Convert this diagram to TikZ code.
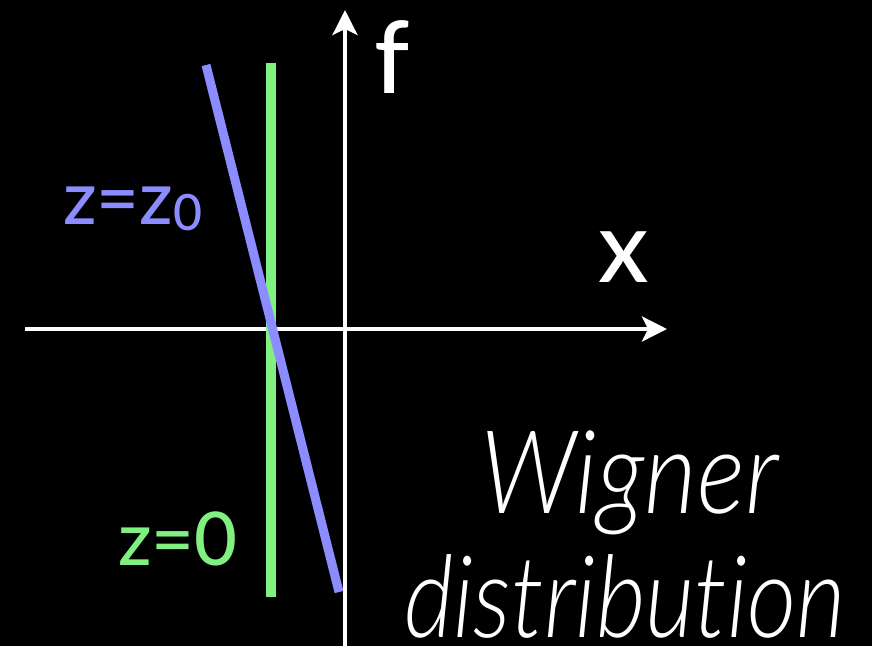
\documentclass[tikz,border=0pt]{standalone}
\usepackage{fontspec}
\setmainfont{Lato Medium}
\newfontfamily\lightit{Lato Light Italic}[Ligatures={NoCommon}]
\usetikzlibrary{arrows.meta}
\definecolor{zblue}{RGB}{138,140,255}
\definecolor{zgreen}{RGB}{128,240,128}
\tikzset{
  axis/.style={draw=white, line width=4pt, -{Stealth[length=25pt,width=25pt,inset=6pt]}},
  lbl/.style={inner sep=0pt, anchor=base west},
}
\begin{document}
\begin{tikzpicture}[x=1pt,y=-1pt]
\useasboundingbox[fill=black] (0,0) rectangle (872,646);
\coordinate (xs) at (25,329);
\coordinate (xe) at (667,329);
\coordinate (ys) at (345,646);
\coordinate (ye) at (345,10);
\coordinate (g1) at (271,63);
\coordinate (g2) at (271,597);
\coordinate (b1) at (206,65);
\coordinate (b2) at (339,592);
\draw[axis] (xs) -- (xe);
\draw[axis] (ys) -- (ye);
\draw[zgreen, line width=10pt] (g1) -- (g2);
\draw[zblue, line width=9pt] (b1) -- (b2);
\node[lbl, white, font=\fontsize{100}{100}\selectfont] (f) at (374,93) {f};
\node[lbl, white, font=\fontsize{100}{100}\selectfont] (x) at (598,282) {x};
\node[lbl, zblue, font=\fontsize{74}{74}\selectfont] (zz) at (63,224) {z=z\raisebox{-6pt}{\fontsize{50}{50}\selectfont 0}};
\node[lbl, zgreen, font=\fontsize{74}{74}\selectfont] (z0) at (118,565) {z=0};
\node[lbl, white, font=\fontsize{116}{116}\lightit] (w) at (480,513) {\scalebox{0.88}[1]{Wigner}};
\node[lbl, white, font=\fontsize{114}{114}\lightit] (d) at (404,637) {\raisebox{0pt}[\height][0pt]{\scalebox{0.84}[1]{distribution}}};
\end{tikzpicture}
\end{document}
